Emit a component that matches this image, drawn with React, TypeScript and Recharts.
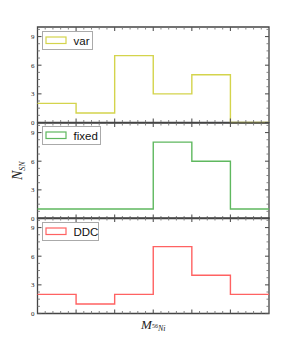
import { LineChart, Line, XAxis, YAxis, ReferenceArea, Legend } from "recharts";

// bin edges 0..6, last point repeats the last bin's value for the step
const bins = [0, 1, 2, 3, 4, 5, 6];
const varCounts = [2, 1, 7, 3, 5, 0, 0];
const fixedCounts = [1, 1, 1, 8, 6, 1, 1];
const ddcCounts = [2, 1, 2, 7, 4, 2, 2];

const xTicks = [
  0, 0.2, 0.4, 0.6, 0.8, 1, 1.2, 1.4, 1.6, 1.8, 2, 2.2, 2.4, 2.6, 2.8, 3,
  3.2, 3.4, 3.6, 3.8, 4, 4.2, 4.4, 4.6, 4.8, 5, 5.2, 5.4, 5.6, 5.8, 6,
];
const yTicks = [
  0, 0.75, 1.5, 2.25, 3, 3.75, 4.5, 5.25, 6, 6.75, 7.5, 8.25, 9, 9.75,
];
const yLabels = [0, 3, 6, 9];

const W = 299;
const LEFT = 37.5;
const RIGHT = 30;
const PLOT_W = W - LEFT - RIGHT;
const PLOT_H = 95.5;
const MT = 10;
const MB = 40;
const FRAME = "#444";

function makeData(vals: number[]) {
  return bins.map((b, i) => ({ x: b, n: vals[i] }));
}

const XTick = (props: any) => {
  const { x, y, payload } = props;
  const v = payload.value;
  if (v === 0 || v === 6) return null;
  const major = Math.abs(v - Math.round(v)) < 1e-6;
  const len = major ? 4 : 2.5;
  const top = y - PLOT_H;
  return (
    <g stroke={major ? "#555" : "#777"} strokeWidth={major ? 1.1 : 0.9}>
      <line x1={x} y1={y} x2={x} y2={y - len} />
      <line x1={x} y1={top} x2={x} y2={top + len} />
    </g>
  );
};

const YTick = (props: any) => {
  const { x, y, payload } = props;
  const v = payload.value;
  const major = yLabels.includes(v);
  const len = major ? 4 : 2.5;
  const rx = x + PLOT_W;
  return (
    <g>
      <g stroke={major ? "#555" : "#777"} strokeWidth={major ? 1.1 : 0.9}>
        <line x1={x} y1={y} x2={x + len} y2={y} />
        <line x1={rx} y1={y} x2={rx - len} y2={y} />
      </g>
      {major && (
        <text
          x={x - 3}
          y={y + 2.5}
          textAnchor="end"
          fontSize={7}
          fontFamily="Liberation Serif"
          fill="#222"
        >
          {v}
        </text>
      )}
    </g>
  );
};

function LegendBox({ label, color, width }: { label: string; color: string; width: number }) {
  return (
    <svg width={width + 2} height={20} style={{ display: "block" }}>
      <rect x={0.5} y={0.5} width={width} height={18} fill="#fff" stroke="#aaa" strokeWidth={1} />
      <rect x={4} y={6} width={20} height={6.5} fill="none" stroke={color} strokeWidth={1.2} />
      <text x={31.5} y={14} fontSize={11.5} fontFamily="Liberation Sans" fill="#111">
        {label}
      </text>
    </svg>
  );
}

const YLabel = (props: any) => {
  const { viewBox } = props;
  const cy = viewBox.y + viewBox.height / 2;
  const cx = 22;
  return (
    <text
      transform={`translate(${cx},${cy}) rotate(-90)`}
      textAnchor="middle"
      fontFamily="Liberation Serif"
      fontStyle="italic"
      fill="#222"
    >
      <tspan fontSize={14}>N</tspan>
      <tspan fontSize={8} dy={3}>SN</tspan>
    </text>
  );
};

const XLabel = (props: any) => {
  const { viewBox } = props;
  const cx = viewBox.x + viewBox.width / 2;
  return (
    <text
      x={cx}
      y={viewBox.y + 15}
      textAnchor="middle"
      fontFamily="Liberation Serif"
      fontStyle="italic"
      fill="#222"
    >
      <tspan fontSize={13}>M</tspan>
      <tspan fontSize={6} fontStyle="normal" dy={-1}>56</tspan>
      <tspan fontSize={8} dy={3}>Ni</tspan>
    </text>
  );
};

function Panel({
  vals,
  color,
  label,
  legendW,
  top,
  yLabel,
  xLabel,
}: {
  vals: number[];
  color: string;
  label: string;
  legendW: number;
  top: number;
  yLabel?: boolean;
  xLabel?: boolean;
}) {
  return (
    <div style={{ position: "absolute", left: 0, top: top - MT }}>
      <LineChart
        width={W}
        height={MT + PLOT_H + MB}
        data={makeData(vals)}
        margin={{ top: MT, right: RIGHT, left: LEFT - 1, bottom: MB - 1 }}
      >
        <XAxis
          dataKey="x"
          type="number"
          domain={[0, 6]}
          ticks={xTicks}
          interval={0}
          height={1}
          tickSize={0}
          tickMargin={0}
          tickLine={false}
          axisLine={false}
          tick={<XTick />}
          label={xLabel ? <XLabel /> : undefined}
        />
        <YAxis
          type="number"
          domain={[0, 10]}
          ticks={yTicks}
          interval={0}
          width={1}
          tickSize={0}
          tickMargin={0}
          tickLine={false}
          axisLine={false}
          tick={<YTick />}
          label={yLabel ? <YLabel /> : undefined}
        />
        <Line
          type="stepAfter"
          dataKey="n"
          stroke={color}
          strokeWidth={1.4}
          dot={false}
          isAnimationActive={false}
        />
        <ReferenceArea
          x1={0}
          x2={6}
          y1={0}
          y2={10}
          fill="none"
          stroke={FRAME}
          strokeWidth={1.3}
          ifOverflow="visible"
        />
        <Legend
          layout="horizontal"
          align="center"
          verticalAlign="middle"
          wrapperStyle={{ left: 41.5, top: MT + 3.5, width: "auto" }}
          content={() => <LegendBox label={label} color={color} width={legendW} />}
        />
      </LineChart>
    </div>
  );
}

export default function App() {
  return (
    <div style={{ position: "absolute", left: 0, top: 0, width: W, height: 351 }}>
      <Panel vals={varCounts} color="#d4d44c" label="var" legendW={50} top={27} />
      <Panel
        vals={fixedCounts}
        color="#5fb85f"
        label="fixed"
        legendW={58}
        top={27 + PLOT_H}
        yLabel
      />
      <Panel
        vals={ddcCounts}
        color="#ff6262"
        label="DDC"
        legendW={56}
        top={27 + 2 * PLOT_H}
        xLabel
      />
    </div>
  );
}
